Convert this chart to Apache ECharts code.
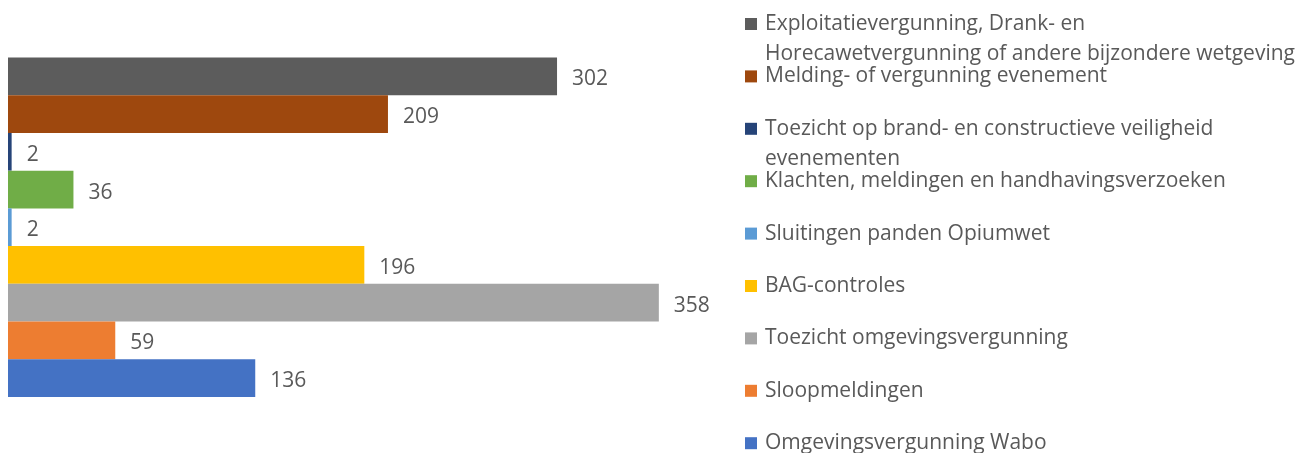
<!DOCTYPE html>
<html>
<head>
<meta charset="utf-8">
<script src="https://cdn.jsdelivr.net/npm/echarts@6/dist/echarts.min.js"></script>
<style>
  html, body { margin: 0; padding: 0; background: #fff; }
  #chart { width: 1298px; height: 453px; }
</style>
</head>
<body>
<div id="chart"></div>
<script>
// categories top to bottom
var categories = [
  'Exploitatievergunning, Drank- en Horecawetvergunning of andere bijzondere wetgeving',
  'Melding- of vergunning evenement',
  'Toezicht op brand- en constructieve veiligheid evenementen',
  'Klachten, meldingen en handhavingsverzoeken',
  'Sluitingen panden Opiumwet',
  'BAG-controles',
  'Toezicht omgevingsvergunning',
  'Sloopmeldingen',
  'Omgevingsvergunning Wabo'
]
var values = [302, 209, 2, 36, 2, 196, 358, 59, 136]
var colors = ['#5c5c5c', '#9e480e', '#264478', '#70ad47', '#5b9bd5', '#ffc000', '#a5a5a5', '#ed7d31', '#4472c4']
// legend text, with line break where the original wraps
var legendLabels = [
  'Exploitatievergunning, Drank- en\nHorecawetvergunning of andere bijzondere wetgeving',
  'Melding- of vergunning evenement',
  'Toezicht op brand- en constructieve veiligheid\nevenementen',
  'Klachten, meldingen en handhavingsverzoeken',
  'Sluitingen panden Opiumwet',
  'BAG-controles',
  'Toezicht omgevingsvergunning',
  'Sloopmeldingen',
  'Omgevingsvergunning Wabo'
]

var font = '"Open Sans", "Noto Sans", sans-serif'
var lineH = 30
var series = []
var legends = []

categories.forEach(function (name, i) {
  var data = categories.map(function (c, j) { return j === i ? values[i] : '-' })
  series.push({
    name: name,
    type: 'bar',
    stack: 'all',
    barCategoryGap: 0,
    itemStyle: { color: colors[i] },
    label: {
      show: true,
      position: 'right',
      distance: 15,
      offset: [0, 3],
      color: '#595959',
      fontSize: 21,
      fontFamily: font
    },
    data: data
  })
  // wrapped items get an empty first line so the icon lines up with the first real line
  var twoLines = legendLabels[i].indexOf('\n') >= 0
  var center = 24 + i * 52.4
  legends.push({
    show: true,
    left: 745,
    top: twoLines ? center - lineH * 1.5 : center - lineH / 2,
    padding: 0,
    icon: 'rect',
    itemWidth: 12,
    itemHeight: 12,
    selectedMode: false,
    data: [name],
    formatter: function () { return twoLines ? ' \n' + legendLabels[i] : legendLabels[i] },
    textStyle: {
      color: '#595959',
      fontSize: 21,
      fontFamily: font,
      lineHeight: lineH,
      padding: [0, 0, 0, 3]
    }
  })
})

var chart = echarts.init(document.getElementById('chart'))
chart.setOption({
  animation: false,
  backgroundColor: '#fff',
  grid: {
    left: 8,
    top: 57.5,
    height: 339.5,
    width: 727.2
  },
  legend: legends,
  xAxis: {
    type: 'value',
    min: 0,
    max: 400,
    show: false
  },
  yAxis: {
    type: 'category',
    inverse: true,
    data: categories,
    show: false
  },
  series: series
})
</script>
</body>
</html>
